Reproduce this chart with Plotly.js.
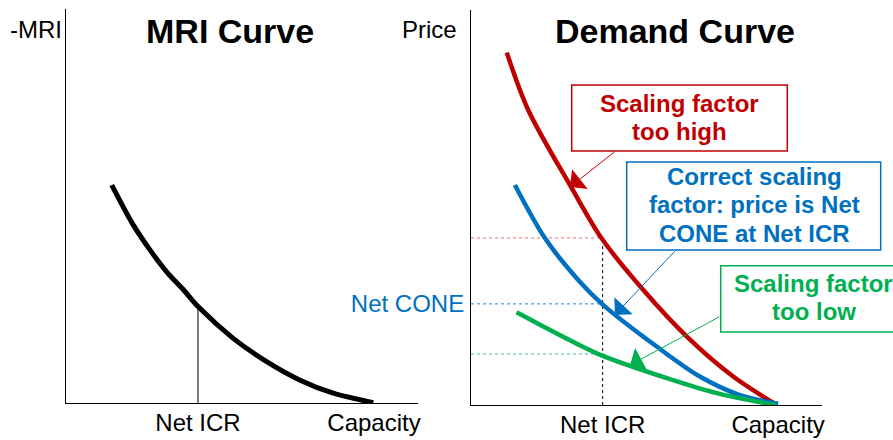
<!DOCTYPE html>
<html>
<head>
<meta charset="utf-8">
<script src="https://cdn.plot.ly/plotly-3.0.1.min.js"></script>
<style>html,body{margin:0;padding:0;background:#fff;}#chart{width:893px;height:440px;}</style>
</head>
<body>
<div id="chart"></div>
<script>
// ---- data (abstract units, 0-100 on each axis) ----
const netICR = 37.5;
const capacity = 87.5;
const xTickLabels = ['Net ICR', 'Capacity'];

const mriX = [13.0, 19.1, 23.9, 28.6, 33.3, 37.6, 47.5, 57.0, 66.5, 75.9, 87.3];
const mriY = [55.3, 45.2, 38.8, 33.3, 28.8, 24.4, 16.4, 10.5, 5.8, 2.5, 0.1];
const mriAtICR = 24.6;

const highX = [10.2, 16.3, 28.7, 37.2, 49.1, 61.5, 74.7, 87.1];
const highY = [89.2, 74.7, 54.9, 42.2, 29.1, 17.3, 7.2, 0.0];
const highAtICR = 42.3;

const correctX = [12.5, 21.1, 30.6, 37.7, 52.9, 65.2, 76.6, 87.5];
const correctY = [55.7, 42.2, 31.6, 25.3, 14.8, 7.2, 2.5, 0.3];
const netCONE = 25.6;

const lowX = [13.0, 22.5, 32.0, 36.8, 55.8, 70.0, 84.2, 86.9];
const lowY = [23.5, 19.0, 14.7, 12.7, 6.8, 3.0, 0.4, 0.0];
const lowAtICR = 12.9;

const yTickLabel = ['Net CONE'];
const titles = ['MRI Curve', 'Demand Curve'];
const yLabels = ['-MRI', 'Price'];
const boxHigh = ['Scaling factor', 'too high'];
const boxCorrect = ['Correct scaling', 'factor: price is Net', 'CONE at Net ICR'];
const boxLow = ['Scaling factor', 'too low'];

// ---- styles ----
const RED = '#C00000', BLUE = '#0070C0', GREEN = '#00B050';
const FONT = 'Liberation Sans, Arial, Helvetica, sans-serif';
const W = 893, H = 440;
const PX = p => p / W;
const PY = p => 1 - p / H;
const SM = 0.9;

const traces = [
  {x: mriX, y: mriY, xaxis: 'x', yaxis: 'y', mode: 'lines',
   line: {color: '#000', width: 5, shape: 'spline', smoothing: SM}},
  {x: highX, y: highY, xaxis: 'x2', yaxis: 'y2', mode: 'lines',
   line: {color: RED, width: 4.5, shape: 'spline', smoothing: SM}},
  {x: correctX, y: correctY, xaxis: 'x2', yaxis: 'y2', mode: 'lines',
   line: {color: BLUE, width: 4.5, shape: 'spline', smoothing: SM}},
  {x: lowX, y: lowY, xaxis: 'x2', yaxis: 'y2', mode: 'lines',
   line: {color: GREEN, width: 4.5, shape: 'spline', smoothing: SM}}
];

const shapes = [
  {type: 'line', xref: 'x', yref: 'y', x0: netICR, x1: netICR, y0: 0, y1: mriAtICR,
   line: {color: '#000', width: 1}, layer: 'below'},
  {type: 'line', xref: 'x2', yref: 'y2', x0: netICR, x1: netICR, y0: 0, y1: highAtICR,
   line: {color: '#000', width: 1, dash: 'dot'}, layer: 'below'},
  {type: 'line', xref: 'x2', yref: 'y2', x0: 0, x1: netICR, y0: highAtICR, y1: highAtICR,
   line: {color: '#E87070', width: 1, dash: 'dot'}, layer: 'below'},
  {type: 'line', xref: 'x2', yref: 'y2', x0: 0, x1: netICR, y0: netCONE, y1: netCONE,
   line: {color: '#2080D0', width: 1, dash: 'dot'}, layer: 'below'},
  {type: 'line', xref: 'x2', yref: 'y2', x0: 0, x1: netICR + 1, y0: lowAtICR, y1: lowAtICR,
   line: {color: '#40C080', width: 1, dash: 'dot'}, layer: 'below'},
  {type: 'rect', xref: 'paper', yref: 'paper', x0: PX(571.7), x1: PX(787.3), y0: PY(151), y1: PY(85),
   line: {color: RED, width: 1.5}, fillcolor: 'rgba(255,255,255,0)'},
  {type: 'rect', xref: 'paper', yref: 'paper', x0: PX(626.7), x1: PX(880.7), y0: PY(250), y1: PY(162),
   line: {color: BLUE, width: 1.5}, fillcolor: 'rgba(255,255,255,0)'},
  {type: 'rect', xref: 'paper', yref: 'paper', x0: PX(720.7), x1: PX(900), y0: PY(332), y1: PY(265.7),
   line: {color: GREEN, width: 1.5}, fillcolor: 'rgba(255,255,255,0)'}
];

function textAnn(text, px, py, size, color, anchor, bold) {
  return {xref: 'paper', yref: 'paper', x: PX(px), y: PY(py), xanchor: anchor || 'center',
    yanchor: 'middle', showarrow: false, text: bold ? '<b>' + text + '</b>' : text,
    font: {family: FONT, size: size, color: color}};
}
function arrowAnn(tipX, tipY, ax, ay, color) {
  return {xref: 'x2', yref: 'y2', x: tipX, y: tipY, ax: ax, ay: ay, text: '',
    showarrow: true, arrowhead: 1, arrowsize: 4.2, arrowwidth: 1, arrowcolor: color, standoff: 0};
}

const annotations = [
  textAnn(yLabels[0], 8, 30, 24, '#000', 'left'),
  textAnn(yLabels[1], 459, 30, 24, '#000', 'right'),
  textAnn(titles[0], 230, 31, 34, '#000', 'center', true),
  textAnn(titles[1], 675, 31, 34, '#000', 'center', true),
  textAnn(boxHigh[0], 679.5, 103, 24, RED, 'center', true),
  textAnn(boxHigh[1], 679.5, 131.5, 24, RED, 'center', true),
  textAnn(boxCorrect[0], 754, 176.7, 24, BLUE, 'center', true),
  textAnn(boxCorrect[1], 754, 205, 24, BLUE, 'center', true),
  textAnn(boxCorrect[2], 754, 233.3, 24, BLUE, 'center', true),
  textAnn(boxLow[0], 813.5, 283.3, 24, GREEN, 'center', true),
  textAnn(boxLow[1], 813.5, 311.7, 24, GREEN, 'center', true),
  arrowAnn(28.2, 55.2, 45.7, -36, RED),
  arrowAnn(41.0, 22.8, 61, -65, BLUE),
  arrowAnn(45.3, 10.1, 90.7, -49, GREEN)
];

const xBase = {range: [0, 100], showgrid: false, zeroline: false, showline: true,
  linecolor: '#000', linewidth: 1, ticks: '', tickvals: [netICR, capacity], ticktext: xTickLabels,
  tickfont: {family: FONT, size: 24, color: '#000'}, ticklabelstandoff: -2, fixedrange: true};
const yBase = {range: [0, 100], showgrid: false, zeroline: false, showline: true,
  linecolor: '#000', linewidth: 1, ticks: '', fixedrange: true};

const layout = {
  width: W, height: H,
  margin: {l: 0, r: 0, t: 0, b: 0, pad: 0},
  paper_bgcolor: '#fff', plot_bgcolor: '#fff',
  showlegend: false,
  font: {family: FONT},
  xaxis: Object.assign({}, xBase, {domain: [PX(66), PX(418)], anchor: 'y'}),
  yaxis: Object.assign({}, yBase, {domain: [PY(403), PY(9)], anchor: 'x', showticklabels: false}),
  xaxis2: Object.assign({}, xBase, {domain: [PX(471), PX(822)], anchor: 'y2'}),
  yaxis2: Object.assign({}, yBase, {domain: [PY(405), PY(10)], anchor: 'x2',
    tickvals: [netCONE], ticktext: yTickLabel, ticklabelstandoff: 1,
    tickfont: {family: FONT, size: 24, color: BLUE}}),
  shapes: shapes,
  annotations: annotations
};

Plotly.newPlot('chart', traces, layout, {displayModeBar: false, staticPlot: true});
</script>
</body>
</html>
